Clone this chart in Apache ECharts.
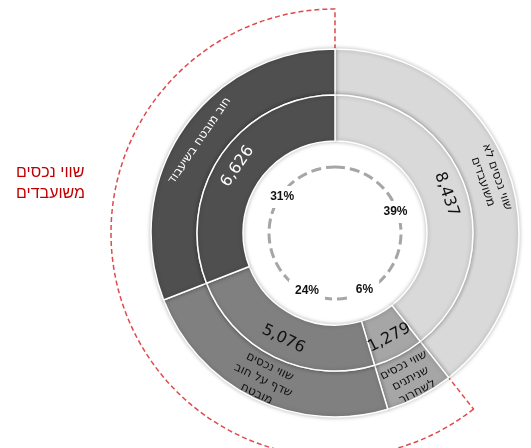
<!DOCTYPE html>
<html><head><meta charset="utf-8">
<script src="https://cdn.jsdelivr.net/npm/echarts@6/dist/echarts.min.js"></script>
<style>html,body{margin:0;padding:0;background:#fff}#c{width:531px;height:448px}</style>
</head><body><div id="c"></div>
<script>
// Data
const categories = ['שווי נכסים לא\nמשועבדים', 'שווי נכסים\nשניתנים\nלשחרור', 'שווי נכסים\nשדף על חוב\nמובטח', 'חוב מובטח בשיעבוד'];
const values = [8437, 1279, 5076, 6626];
const pledgedTitle = 'שווי נכסים\nמשועבדים';

// Styles
const fills = ['#d9d9d9', '#a6a6a6', '#808080', '#4f4f4f'];
const textColors = ['#111', '#111', '#111', '#fff'];
const center = [335, 233];
const FONT = "'DejaVu Sans', 'Liberation Sans', sans-serif";

const ringData = values.map((v, i) => ({
  value: v, name: categories[i],
  itemStyle: { color: fills[i] },
  label: { color: textColors[i] }
}));

const pledgedSum = values.slice(1).reduce((a, b) => a + b, 0);

const chart = echarts.init(document.getElementById('c'), null, { renderer: 'canvas' });
chart.setOption({
  animation: false,
  title: {
    text: pledgedTitle, left: 11, top: 157,
    textStyle: { color: '#c00000', fontSize: 16, fontWeight: 'normal', fontFamily: "'Liberation Sans', 'DejaVu Sans', sans-serif", lineHeight: 21, align: 'right' }
  },
  series: [
    { // red dashed bracket around pledged assets
      type: 'pie', center: center, radius: [176, 224], silent: true, z: 1,
      label: { show: false }, labelLine: { show: false },
      data: [
        { value: values[0], itemStyle: { color: 'transparent', borderWidth: 0 } },
        { value: pledgedSum, itemStyle: { color: 'transparent', borderColor: '#e04a4a', borderWidth: 1.5, borderType: [5, 3] } }
      ]
    },
    { // outer ring: names
      type: 'pie', center: center, radius: [138, 184], silent: true, z: 3,
      avoidLabelOverlap: false, labelLine: { show: false },
      itemStyle: { borderColor: '#fff', borderWidth: 1.5, shadowBlur: 4, shadowColor: 'rgba(0,0,0,0.25)' },
      label: { show: true, position: 'inside', rotate: 'tangential', fontSize: 12, lineHeight: 15, fontFamily: FONT, formatter: p => p.name },
      data: ringData
    },
    { // inner ring: values
      type: 'pie', center: center, radius: [92, 138], silent: true, z: 3,
      avoidLabelOverlap: false, labelLine: { show: false },
      itemStyle: { borderColor: '#fff', borderWidth: 1.5, shadowBlur: 4, shadowColor: 'rgba(0,0,0,0.25)' },
      label: { show: true, position: 'inside', rotate: 'tangential', fontSize: 16, fontFamily: FONT, formatter: p => p.value.toLocaleString('en-US') },
      data: ringData
    },
    { // dashed inner circle
      type: 'pie', center: center, radius: [0, 66], silent: true, z: 2,
      label: { show: false }, labelLine: { show: false },
      data: [{ value: 1, itemStyle: { color: 'transparent', borderColor: '#a6a6a6', borderWidth: 3, borderType: [10, 5] } }]
    },
    { // percentages
      type: 'pie', center: center, radius: [50, 72], silent: true, z: 4,
      percentPrecision: 0, avoidLabelOverlap: false, labelLine: { show: false },
      itemStyle: { color: 'transparent' },
      label: { show: true, position: 'inside', formatter: '{d}%', color: '#111', fontSize: 12, fontWeight: 'bold', fontFamily: "'Liberation Sans', sans-serif", backgroundColor: '#fff', padding: [5, 6] },
      data: values.map((v, i) => ({ value: v, name: categories[i] }))
    }
  ]
});
</script></body></html>
